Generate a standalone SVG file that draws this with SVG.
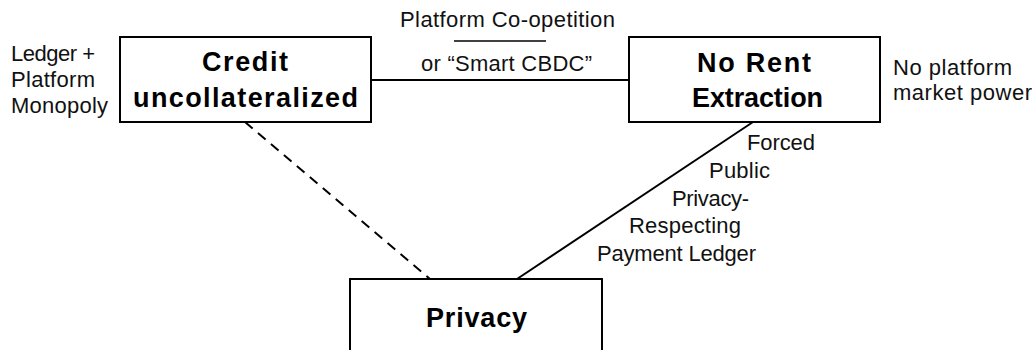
<svg xmlns="http://www.w3.org/2000/svg" width="1032" height="350" viewBox="0 0 1032 350">
<style>
.box{fill:#fff;stroke:#000;stroke-width:2}
.t{font-family:"Liberation Sans",Arial,sans-serif;font-size:22px;fill:#111}
.b{font-family:"Liberation Sans",Arial,sans-serif;font-size:27px;font-weight:bold;fill:#000}
.ln{stroke:#000;stroke-width:2;fill:none}
</style>
<rect width="1032" height="350" fill="#fff"/>
<g id="connectors">
<line class="ln" x1="371" y1="80" x2="629" y2="80"/>
<line class="ln" x1="245" y1="122" x2="430" y2="279" stroke-width="2.5" stroke-dasharray="10,7"/>
<line class="ln" x1="753" y1="122" x2="517" y2="279"/>
<line stroke="#000" stroke-width="1.5" x1="454" y1="41" x2="546" y2="41"/>
<text class="t" x="400" y="27" textLength="215">Platform Co-opetition</text>
<text class="t" x="421" y="71" textLength="171">or “Smart CBDC”</text>
<text class="t" x="747" y="150" textLength="68">Forced</text>
<text class="t" x="709" y="178" textLength="61">Public</text>
<text class="t" x="672" y="206" textLength="77">Privacy-</text>
<text class="t" x="629" y="233" textLength="112">Respecting</text>
<text class="t" x="597" y="261" textLength="159">Payment Ledger</text>
</g>
<g id="credit">
<rect class="box" x="120" y="37" width="251" height="85"/>
<text class="b" x="202" y="71" textLength="86">Credit</text>
<text class="b" x="133" y="107" textLength="225">uncollateralized</text>
<text class="t" x="11" y="61" textLength="84">Ledger +</text>
<text class="t" x="11" y="87" textLength="84">Platform</text>
<text class="t" x="11" y="113" textLength="97">Monopoly</text>
</g>
<g id="norent">
<rect class="box" x="629" y="37" width="251" height="85"/>
<text class="b" x="697" y="72" textLength="114">No Rent</text>
<text class="b" x="692" y="107" textLength="131">Extraction</text>
<text class="t" x="893" y="75" textLength="119">No platform</text>
<text class="t" x="893" y="100" textLength="139">market power</text>
</g>
<g id="privacy">
<rect class="box" x="350" y="279" width="252" height="90"/>
<text class="b" x="426" y="327" textLength="101">Privacy</text>
</g>
</svg>
